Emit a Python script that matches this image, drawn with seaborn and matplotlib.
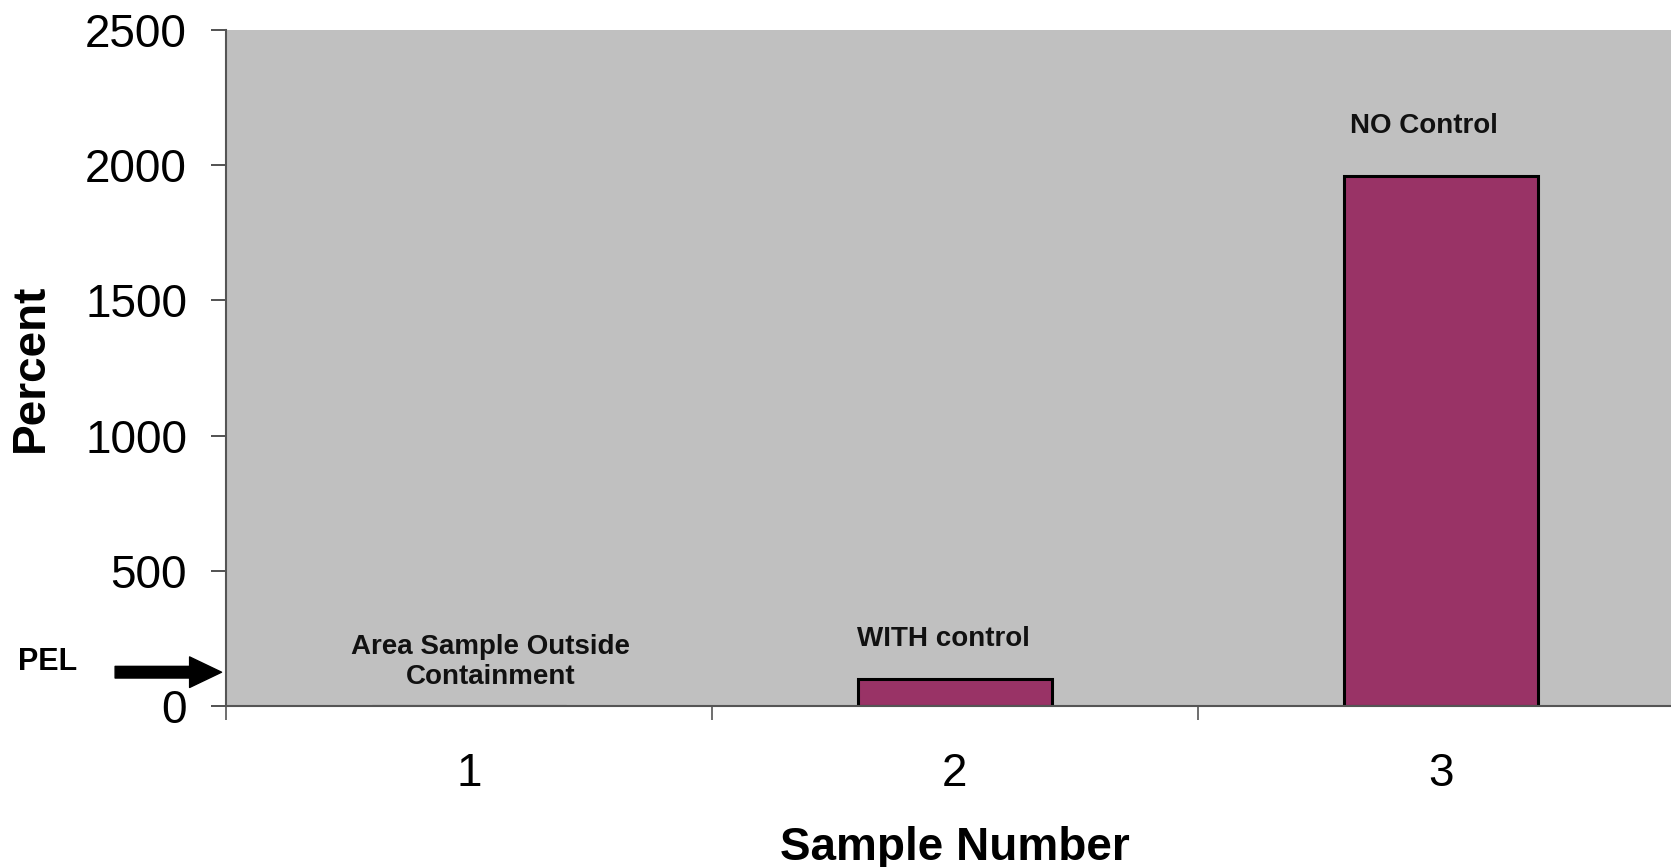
import matplotlib
matplotlib.use("Agg")
import matplotlib.pyplot as plt
import seaborn as sns
import pandas as pd

# data
samples = ["1", "2", "3"]
percent = [0, 100, 1960]
yticks = [0, 500, 1000, 1500, 2000, 2500]
bar_notes = ["Area Sample Outside\nContainment", "WITH control", "NO Control"]
pel_level = 125

sns.set_theme(style="white")
plt.rcParams["font.family"] = ["Liberation Sans", "DejaVu Sans"]
plt.rcParams["text.color"] = "black"
plt.rcParams["axes.labelcolor"] = "black"
plt.rcParams["xtick.color"] = "black"
plt.rcParams["ytick.color"] = "black"

df = pd.DataFrame({"Sample Number": samples, "Percent": percent})

fig = plt.figure(figsize=(16.71, 8.67), dpi=100)
ax = fig.add_axes([0.1352, 0.1857, 0.8725, 0.7797])
ax.set_facecolor("#C0C0C0")

sns.barplot(data=df, x="Sample Number", y="Percent", color="#993366",
            edgecolor="black", linewidth=2.2, width=0.40, saturation=1, ax=ax)

ax.set_xlim(-0.5, 2.5)
ax.set_ylim(0, 2500)
ax.set_yticks(yticks)
ax.set_xticks(range(len(samples)))
ax.set_xticklabels(samples)
ax.set_xticks([-0.5, 0.5, 1.5, 2.5], minor=True)

ax.tick_params(axis="y", which="major", direction="out", length=11, width=1.2,
               color="#333333", labelsize=33, pad=17, left=True)
ax.tick_params(axis="x", which="major", length=0, labelsize=33, pad=33)
ax.tick_params(axis="x", which="minor", direction="out", length=10, width=1.2,
               color="#555555", bottom=True)

for side in ["top", "right"]:
    ax.spines[side].set_visible(False)
ax.spines["left"].set_color("#555555")
ax.spines["left"].set_linewidth(1.5)
ax.spines["bottom"].set_color("#555555")
ax.spines["bottom"].set_linewidth(1.5)

ax.set_xlabel("Sample Number", fontsize=33, fontweight="bold", va="center")
ax.set_ylabel("Percent", fontsize=33, fontweight="bold", va="center")
ax.xaxis.set_label_coords(0.50, -0.21)
ax.yaxis.set_label_coords(-0.134, 0.5)

# labels above the bars
note_pos = [(0.045, 161), (0.977, 247), (1.966, 2144)]
for note, (nx, ny) in zip(bar_notes, note_pos):
    ax.text(nx, ny, note, ha="center", va="center", fontsize=20,
            fontweight="bold", color="#111111", linespacing=1.2)

# PEL marker
ax.text(-0.122, pel_level + 36, "PEL", transform=ax.get_yaxis_transform(),
        ha="center", va="center", fontsize=22, fontweight="bold",
        clip_on=False)
ax.annotate("", xy=(-0.003, pel_level), xytext=(-0.076, pel_level),
            xycoords=ax.get_yaxis_transform(), textcoords=ax.get_yaxis_transform(),
            arrowprops=dict(arrowstyle="simple,head_width=1.1,head_length=1.15,tail_width=0.42",
                            color="black", shrinkA=0, shrinkB=0, mutation_scale=20),
            annotation_clip=False)

fig.savefig("out.png", dpi=100)
